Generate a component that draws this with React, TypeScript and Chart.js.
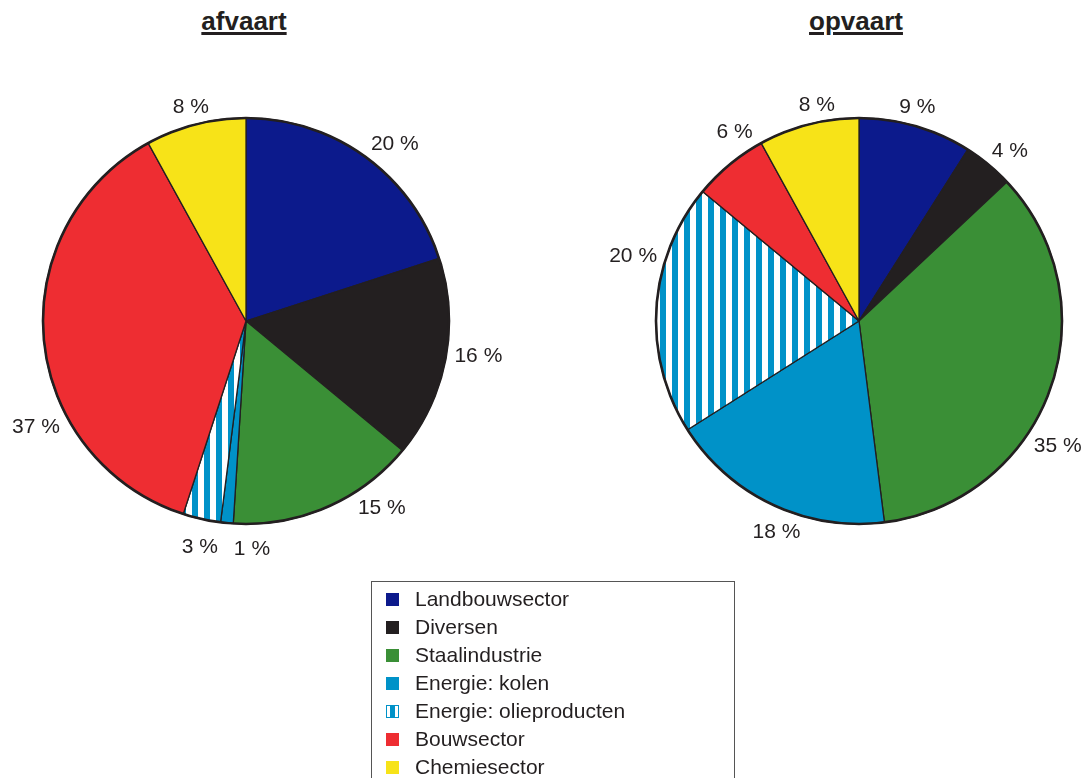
import React, { useEffect, useRef } from "react";
import { Chart, registerables } from "chart.js";

Chart.register(...registerables);

const categories = [
  "Landbouwsector",
  "Diversen",
  "Staalindustrie",
  "Energie: kolen",
  "Energie: olieproducten",
  "Bouwsector",
  "Chemiesector",
];
const afvaartValues = [20, 16, 15, 1, 3, 37, 8];
const opvaartValues = [9, 4, 35, 18, 20, 6, 8];
const titles = ["afvaart", "opvaart"];

const colors = ["#0c1a8c", "#231f20", "#3a8f36", "#0092c8", "PATTERN", "#ee2d32", "#f7e318"];
const STRIPE_BLUE = "#0092c8";

// label placement tweaks: angle shift (degrees) from slice middle, extra radial gap (px)
const afvaartLabelShift = [4, -2.5, -12.7, -6.9, -1, -21.2, 0];
const afvaartLabelExtra = [0, 0, 0, 9, 8, 0, 0];
const opvaartLabelShift = [-1, 1.8, 12.3, -3.8, 12.6, 6.3, 3.4];
const opvaartLabelExtra = [0, 0, 0, 0, 0, 0, 0];

const FONT = '"Liberation Sans", Arial, Helvetica, sans-serif';
const RADIUS = 203;

function makeStripePattern(ctx: CanvasRenderingContext2D): CanvasPattern | string {
  const c = document.createElement("canvas");
  c.width = 12;
  c.height = 12;
  const p = c.getContext("2d");
  if (!p) return STRIPE_BLUE;
  p.fillStyle = "#ffffff";
  p.fillRect(0, 0, 12, 12);
  p.fillStyle = STRIPE_BLUE;
  p.fillRect(0, 0, 6, 12);
  return ctx.createPattern(c, "repeat") || STRIPE_BLUE;
}

const pieDecor = {
  id: "pieDecor",
  afterDatasetsDraw(chart: any, _args: any, opts: any) {
    const meta = chart.getDatasetMeta(0);
    const ctx = chart.ctx as CanvasRenderingContext2D;
    const arcs = meta.data;
    if (!arcs.length) return;
    const a0 = arcs[0];
    const cx = a0.x;
    const cy = a0.y;
    const r = a0.outerRadius;
    ctx.save();
    ctx.beginPath();
    ctx.arc(cx, cy, r, 0, Math.PI * 2);
    ctx.lineWidth = 2.6;
    ctx.strokeStyle = "#231f20";
    ctx.stroke();
    ctx.font = `21px ${FONT}`;
    ctx.fillStyle = "#231f20";
    ctx.textAlign = "center";
    ctx.textBaseline = "middle";
    const values: number[] = chart.data.datasets[0].data;
    const shifts: number[] = opts.shifts || [];
    const extras: number[] = opts.extras || [];
    const hh = 8;
    const gap = 7;
    arcs.forEach((arc: any, i: number) => {
      const text = `${values[i]} %`;
      const hw = ctx.measureText(text).width / 2;
      const mid = (arc.startAngle + arc.endAngle) / 2 + ((shifts[i] || 0) * Math.PI) / 180;
      const ux = Math.cos(mid);
      const uy = Math.sin(mid);
      const d = r + gap + (extras[i] || 0) + Math.abs(ux) * hw + Math.abs(uy) * hh;
      ctx.fillText(text, cx + ux * d, cy + uy * d + 1);
    });
    ctx.restore();
  },
};

function PieCanvas({
  values,
  shifts,
  extras,
  padding,
}: {
  values: number[];
  shifts: number[];
  extras: number[];
  padding: { left: number; right: number; top: number; bottom: number };
}) {
  const ref = useRef<HTMLCanvasElement | null>(null);
  useEffect(() => {
    const canvas = ref.current;
    if (!canvas) return;
    const ctx = canvas.getContext("2d")!;
    const pattern = makeStripePattern(ctx);
    const bg = colors.map((c) => (c === "PATTERN" ? pattern : c));
    const chart = new Chart(canvas, {
      type: "pie",
      data: {
        labels: categories,
        datasets: [
          {
            data: values,
            backgroundColor: bg as any,
            borderColor: "#231f20",
            borderWidth: 1.3,
            radius: RADIUS,
          } as any,
        ],
      },
      options: {
        responsive: false,
        animation: false,
        events: [],
        layout: { padding },
        plugins: {
          legend: { display: false },
          tooltip: { enabled: false },
          pieDecor: { shifts, extras },
        } as any,
      },
      plugins: [pieDecor],
    });
    return () => chart.destroy();
  }, []);
  return (
    <canvas
      ref={ref}
      width={1086}
      height={778}
      style={{ position: "absolute", left: 0, top: 0, width: 1086, height: 778 }}
    />
  );
}

function Swatch({ color }: { color: string }) {
  if (color === "PATTERN") {
    return (
      <div
        style={{
          position: "absolute",
          left: 14,
          top: 0,
          width: 11,
          height: 11,
          border: `1px solid ${STRIPE_BLUE}`,
          background: `linear-gradient(to right, #fff 0 3px, ${STRIPE_BLUE} 3px 8px, #fff 8px 11px)`,
        }}
      />
    );
  }
  return (
    <div style={{ position: "absolute", left: 14, top: 0, width: 13, height: 13, background: color }} />
  );
}

export default function App() {
  return (
    <div
      style={{
        position: "fixed",
        left: 0,
        top: 0,
        width: 1086,
        height: 778,
        overflow: "hidden",
        background: "#fff",
        fontFamily: FONT,
      }}
    >
      {[244, 856].map((cx, i) => (
        <div
          key={titles[i]}
          style={{
            position: "absolute",
            left: cx - 100,
            width: 200,
            top: 8,
            textAlign: "center",
            fontSize: 26,
            lineHeight: "26px",
            fontWeight: "bold",
            color: "#231f20",
          }}
        >
          <span style={{ textDecoration: "underline", textDecorationThickness: "2.5px", textUnderlineOffset: "2px" }}>
            {titles[i]}
          </span>
        </div>
      ))}
      <PieCanvas
        values={afvaartValues}
        shifts={afvaartLabelShift}
        extras={afvaartLabelExtra}
        padding={{ left: 0, right: 594, top: 0, bottom: 136 }}
      />
      <PieCanvas
        values={opvaartValues}
        shifts={opvaartLabelShift}
        extras={opvaartLabelExtra}
        padding={{ left: 632, right: 0, top: 0, bottom: 136 }}
      />
      <div
        style={{
          position: "absolute",
          left: 371,
          top: 581,
          width: 364,
          height: 260,
          border: "1px solid #555",
          boxSizing: "border-box",
        }}
      >
        {categories.map((c, i) => (
          <div key={c} style={{ position: "absolute", left: 0, top: 11 + i * 28, width: 360, height: 13 }}>
            <Swatch color={colors[i]} />
            <div
              style={{
                position: "absolute",
                left: 43,
                top: -6,
                fontSize: 21,
                lineHeight: "24px",
                color: "#231f20",
                whiteSpace: "nowrap",
              }}
            >
              {c}
            </div>
          </div>
        ))}
      </div>
    </div>
  );
}
